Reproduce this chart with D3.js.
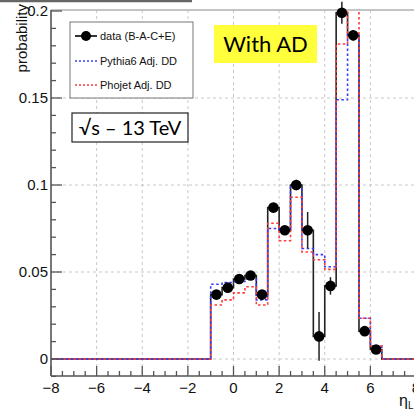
<!DOCTYPE html>
<html>
<head>
<meta charset="utf-8">
<script src="https://cdn.jsdelivr.net/npm/d3@7"></script>
<style>
  html, body { margin: 0; padding: 0; background: #fff; }
  svg { display: block; }
</style>
</head>
<body>
<svg id="chart" width="414" height="410"></svg>
<script>
// ---- data ----
const binEdgesStart = -1.0;
const binWidth = 0.5;
const binLabels = [-0.75, -0.25, 0.25, 0.75, 1.25, 1.75, 2.25, 2.75, 3.25, 3.75, 4.25, 4.75, 5.25, 5.75, 6.25];
const dataValues = [0.037, 0.041, 0.046, 0.048, 0.037, 0.087, 0.074, 0.100, 0.074, 0.013, 0.042, 0.199, 0.186, 0.016, 0.0055];
const dataErrors = [0.002, 0.002, 0.002, 0.002, 0.002, 0.002, 0.002, 0.003, 0.0105, 0.014, 0.005, 0.0063, 0.003, 0.002, 0.002];
const pythiaValues = [0.043, 0.044, 0.0445, 0.046, 0.034, 0.075, 0.074, 0.099, 0.0635, 0.060, 0.053, 0.149, 0.186, 0.0234, 0.0075];
const phojetValues = [0.031, 0.034, 0.038, 0.0415, 0.031, 0.078, 0.068, 0.093, 0.0615, 0.057, 0.0515, 0.181, 0.21, 0.0234, 0.0075];
const xTicks = [-8, -6, -4, -2, 0, 2, 4, 6, 8];
const yTicks = [0, 0.05, 0.1, 0.15, 0.2];
const legendLabels = ["data (B-A-C+E)", "Pythia6 Adj. DD", "Phojet Adj. DD"];

const svg = d3.select("#chart");
const X0 = 51, X1 = 416, YTOP = 10, YAXIS = 376;
const x = d3.scaleLinear().domain([-8, 8]).range([X0, X1]);
const y = d3.scaleLinear().domain([0, 0.2]).range([359, 11]);
const font = "'Liberation Sans', Arial, Helvetica, sans-serif";

// top slide border fragment
svg.append("line").attr("x1", 0).attr("x2", 192).attr("y1", 1).attr("y2", 1)
  .attr("stroke", "#666").attr("stroke-width", 2.5);

// clip
svg.append("defs").append("clipPath").attr("id", "plotclip")
  .append("rect").attr("x", X0).attr("y", YTOP).attr("width", X1 - X0 + 10).attr("height", YAXIS - YTOP);

// grid
const grid = svg.append("g");
[-6, -4, -2, 0, 2, 4, 6].forEach(v => {
  grid.append("line").attr("x1", x(v)).attr("x2", x(v)).attr("y1", YTOP).attr("y2", YAXIS)
    .attr("stroke", "#c8c8c8").attr("stroke-width", 1).attr("stroke-dasharray", "3,3");
});
[0, 0.05, 0.1, 0.15].forEach(v => {
  grid.append("line").attr("x1", X0).attr("x2", X1).attr("y1", y(v)).attr("y2", y(v))
    .attr("stroke", "#c8c8c8").attr("stroke-width", 1).attr("stroke-dasharray", "3,3");
});
// top frame
svg.append("line").attr("x1", X0).attr("x2", 414).attr("y1", YTOP).attr("y2", YTOP)
  .attr("stroke", "#b0b0b0").attr("stroke-width", 1.5);

// step histogram path builder
function stepPoints(vals) {
  const pts = [[-8, 0], [binEdgesStart, 0]];
  vals.forEach((v, i) => {
    const lo = binEdgesStart + i * binWidth, hi = lo + binWidth;
    pts.push([lo, v]); pts.push([hi, v]);
  });
  const end = binEdgesStart + vals.length * binWidth;
  pts.push([end, 0]); pts.push([8, 0]);
  return pts;
}
const line = d3.line().x(d => x(d[0])).y(d => y(d[1]));

const plot = svg.append("g").attr("clip-path", "url(#plotclip)");
plot.append("path").attr("d", line(stepPoints(dataValues)))
  .attr("fill", "none").attr("stroke", "#222").attr("stroke-width", 1.6);
plot.append("path").attr("d", line(stepPoints(pythiaValues)))
  .attr("fill", "none").attr("stroke", "#3a3aff").attr("stroke-width", 1.6).attr("stroke-dasharray", "2.5,2.5");
plot.append("path").attr("d", line(stepPoints(phojetValues)))
  .attr("fill", "none").attr("stroke", "#ff3a3a").attr("stroke-width", 1.6).attr("stroke-dasharray", "2.5,2.5")
  .attr("stroke-dashoffset", 2.5);

// error bars and markers
const pts = svg.append("g");
binLabels.forEach((c, i) => {
  pts.append("line").attr("x1", x(c)).attr("x2", x(c))
    .attr("y1", y(dataValues[i] + dataErrors[i])).attr("y2", y(dataValues[i] - dataErrors[i]))
    .attr("stroke", "#222").attr("stroke-width", 1.5);
});
pts.selectAll("circle").data(binLabels).join("circle")
  .attr("cx", d => x(d)).attr("cy", (d, i) => y(dataValues[i])).attr("r", 5.3).attr("fill", "#000");

// axes
const axisColor = "#555";
svg.append("line").attr("x1", X0).attr("x2", X0).attr("y1", YTOP).attr("y2", YAXIS)
  .attr("stroke", axisColor).attr("stroke-width", 1.6);
svg.append("line").attr("x1", X0).attr("x2", 414).attr("y1", YAXIS).attr("y2", YAXIS)
  .attr("stroke", axisColor).attr("stroke-width", 1.6);

// x ticks
const xAxisG = svg.append("g");
d3.range(-8, 8.01, 0.5).forEach(v => {
  const major = Math.abs(v % 2) < 1e-9;
  xAxisG.append("line").attr("x1", x(v)).attr("x2", x(v)).attr("y1", YAXIS).attr("y2", YAXIS - (major ? 10 : 5))
    .attr("stroke", axisColor).attr("stroke-width", 1.3);
});
xAxisG.selectAll("text").data(xTicks).join("text")
  .attr("x", d => x(d)).attr("y", 393)
  .attr("text-anchor", "middle").attr("font-family", font).attr("font-size", 15).attr("fill", "#111")
  .text(d => d < 0 ? "\u2212" + Math.abs(d) : String(d));

// y ticks
const yAxisG = svg.append("g");
d3.range(0, 0.2001, 0.01).forEach(v => {
  const major = Math.abs(Math.round(v * 100) % 5) === 0;
  yAxisG.append("line").attr("x1", X0).attr("x2", X0 + (major ? 11 : 5)).attr("y1", y(v)).attr("y2", y(v))
    .attr("stroke", axisColor).attr("stroke-width", 1.3);
});
yAxisG.append("line").attr("x1", X0).attr("x2", X0 + 5).attr("y1", y(-0.01)).attr("y2", y(-0.01))
  .attr("stroke", axisColor).attr("stroke-width", 1.3);
yAxisG.selectAll("text").data(yTicks).join("text")
  .attr("x", 48).attr("y", d => y(d) + 5)
  .attr("text-anchor", "end").attr("font-family", font).attr("font-size", 15).attr("fill", "#111")
  .text(d => d === 0 ? "0" : String(d));

// axis titles
svg.append("text").attr("transform", "translate(27,4) rotate(-90)")
  .attr("text-anchor", "end").attr("font-family", font).attr("font-size", 15).attr("fill", "#111")
  .text("probability");
const eta = svg.append("text").attr("x", 399).attr("y", 406)
  .attr("font-family", font).attr("font-size", 16).attr("fill", "#111");
eta.append("tspan").text("\u03b7");
eta.append("tspan").attr("font-size", 10).attr("dy", 3).text("L");

// legend
const lg = svg.append("g");
lg.append("rect").attr("x", 70).attr("y", 22).attr("width", 123).attr("height", 76)
  .attr("fill", "#fff").attr("stroke", "#777").attr("stroke-width", 1);
const ly = [36, 61, 85];
lg.append("line").attr("x1", 75).attr("x2", 97).attr("y1", ly[0]).attr("y2", ly[0])
  .attr("stroke", "#000").attr("stroke-width", 1.6);
lg.append("circle").attr("cx", 86).attr("cy", ly[0]).attr("r", 5).attr("fill", "#000");
lg.append("line").attr("x1", 75).attr("x2", 97).attr("y1", ly[1]).attr("y2", ly[1])
  .attr("stroke", "#3a3aff").attr("stroke-width", 1.4).attr("stroke-dasharray", "2,2");
lg.append("line").attr("x1", 75).attr("x2", 97).attr("y1", ly[2]).attr("y2", ly[2])
  .attr("stroke", "#ff3a3a").attr("stroke-width", 1.4).attr("stroke-dasharray", "2,2");
lg.selectAll("text.leg").data(legendLabels).join("text").attr("class", "leg")
  .attr("x", 100).attr("y", (d, i) => ly[i] + 4)
  .attr("font-family", font).attr("font-size", 11).attr("fill", "#111").text(d => d);

// annotation boxes
svg.append("rect").attr("x", 214).attr("y", 25).attr("width", 103).attr("height", 38).attr("fill", "#ffff3c");
svg.append("text").attr("x", 265.5).attr("y", 52).attr("text-anchor", "middle")
  .attr("font-family", "Lato, 'Open Sans', sans-serif").attr("font-size", 22).attr("fill", "#000").text("With AD");

svg.append("rect").attr("x", 72).attr("y", 113).attr("width", 116).attr("height", 29)
  .attr("fill", "#fff").attr("stroke", "#222").attr("stroke-width", 1.2);
svg.append("text").attr("x", 130).attr("y", 135).attr("text-anchor", "middle")
  .attr("font-family", "Lato, 'Open Sans', sans-serif").attr("font-size", 20).attr("fill", "#000").text("\u221as \u2013 13 TeV");
</script>
</body>
</html>
